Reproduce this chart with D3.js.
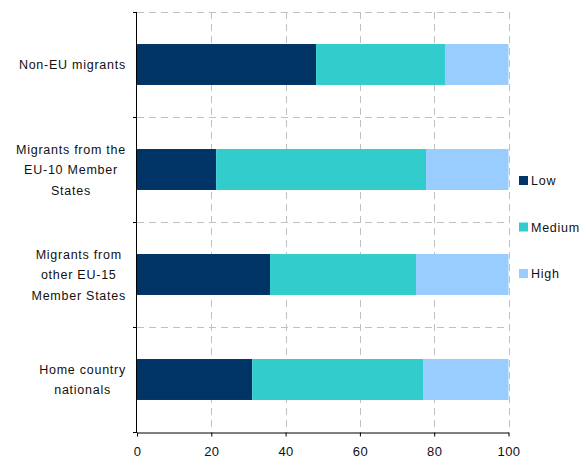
<!DOCTYPE html>
<html>
<head>
<meta charset="utf-8">
<script src="https://cdn.jsdelivr.net/npm/d3@7"></script>
<style>
  body { margin: 0; background: #fff; }
  svg { display: block; font-family: "Liberation Sans", Arial, sans-serif; }
</style>
</head>
<body>
<div id="chart"></div>
<script>
// Skill level shares (%) by origin group
const categories = [
  "Non-EU migrants",
  "Migrants from the EU-10 Member States",
  "Migrants from other EU-15 Member States",
  "Home country nationals"
];
const categoryLines = [
  ["Non-EU migrants"],
  ["Migrants from the", "EU-10 Member", "States"],
  ["Migrants from", "other EU-15", "Member States"],
  ["Home country", "nationals"]
];
const seriesNames = ["Low", "Medium", "High"];
const low    = [48.2, 21.3, 35.8, 31.0];
const medium = [34.7, 56.5, 39.3, 46.0];
const high   = [17.1, 22.2, 24.9, 23.0];
const xTicks = [0, 20, 40, 60, 80, 100];
const colors = ["#003366", "#33CCCC", "#99CCFF"];

const width = 584, height = 459;
const plot = { left: 137, right: 508.5, top: 12, bottom: 432 };

const svg = d3.select("#chart").append("svg")
  .attr("width", width).attr("height", height);

const x = d3.scaleLinear().domain([0, 100]).range([plot.left, plot.right]);
const pad = 0.61;
const y = d3.scaleBand().domain(categories)
  .range([plot.top, plot.bottom])
  .paddingInner(pad).paddingOuter(pad / 2);
const step = y.step();

const rows = categories.map((c, i) => ({ cat: c, Low: low[i], Medium: medium[i], High: high[i] }));
const stacked = d3.stack().keys(seriesNames)(rows);
const color = d3.scaleOrdinal().domain(seriesNames).range(colors);

// Gridlines: vertical at x ticks, horizontal at category boundaries
const boundaries = categories.map(c => y(c) + y.bandwidth() / 2 - step / 2)
  .concat([plot.bottom]);
const grid = svg.append("g").attr("stroke", "#c0c0c0").attr("stroke-width", 1)
  .attr("stroke-dasharray", "7,5");
grid.selectAll("line.v").data(xTicks.slice(1)).join("line")
  .attr("class", "v")
  .attr("x1", d => Math.round(x(d)) + 0.5).attr("x2", d => Math.round(x(d)) + 0.5)
  .attr("y1", plot.top).attr("y2", plot.bottom);
grid.selectAll("line.h").data(boundaries.slice(0, -1)).join("line")
  .attr("class", "h")
  .attr("x1", plot.left).attr("x2", plot.right)
  .attr("y1", d => Math.round(d) + 0.5).attr("y2", d => Math.round(d) + 0.5);

// Bars
svg.append("g").selectAll("g").data(stacked).join("g")
  .attr("fill", d => color(d.key))
  .selectAll("rect").data(d => d).join("rect")
  .attr("x", d => x(d[0]))
  .attr("width", d => x(d[1]) - x(d[0]))
  .attr("y", d => y(d.data.cat))
  .attr("height", y.bandwidth());

// Bottom axis
const xAxis = svg.append("g")
  .attr("transform", `translate(0,${plot.bottom + 0.5})`)
  .call(d3.axisBottom(x).tickValues(xTicks).tickSize(4).tickSizeOuter(0).tickPadding(10));
xAxis.select(".domain").attr("stroke", "#000");
xAxis.selectAll(".tick line").attr("stroke", "#000");
xAxis.selectAll(".tick text")
  .attr("font-size", 13).attr("fill", "#111")
  .attr("letter-spacing", 0.4)
  .attr("font-family", "'Liberation Sans', Arial, sans-serif");

// Left axis line with boundary ticks
const yAxis = svg.append("g").attr("stroke", "#000").attr("stroke-width", 1);
yAxis.append("line")
  .attr("x1", plot.left - 0.5).attr("x2", plot.left - 0.5)
  .attr("y1", plot.top).attr("y2", plot.bottom + 1);
yAxis.selectAll("line.t").data(boundaries).join("line")
  .attr("class", "t")
  .attr("x1", plot.left - 4).attr("x2", plot.left)
  .attr("y1", d => Math.round(d) + 0.5).attr("y2", d => Math.round(d) + 0.5);

// Category labels: centered lines inside a block right-aligned to the axis
const labelRight = 126;
const lineH = 20.5;
categories.forEach((c, i) => {
  const lines = categoryLines[i];
  const g = svg.append("g");
  const texts = g.selectAll("text").data(lines).join("text")
    .attr("font-size", 12.5).attr("fill", "#111")
    .attr("letter-spacing", 0.75)
    .attr("text-anchor", "middle")
    .text(d => d);
  const maxW = d3.max(texts.nodes(), n => n.getComputedTextLength());
  const cx = labelRight - maxW / 2;
  const cy = y(c) + y.bandwidth() / 2;
  texts.attr("x", cx)
    .attr("y", (d, j) => cy + (j - (lines.length - 1) / 2) * lineH + 4.5);
});

// Legend
const legendY = [180.5, 227, 273.5];
const legend = svg.append("g");
seriesNames.forEach((s, i) => {
  legend.append("rect")
    .attr("x", 519).attr("y", legendY[i] - 4.5)
    .attr("width", 9).attr("height", 9)
    .attr("fill", color(s));
  legend.append("text")
    .attr("x", 531).attr("y", legendY[i] + 4.5)
    .attr("font-size", 12.5).attr("fill", "#111")
    .attr("letter-spacing", 0.75)
    .text(s);
});
</script>
</body>
</html>
